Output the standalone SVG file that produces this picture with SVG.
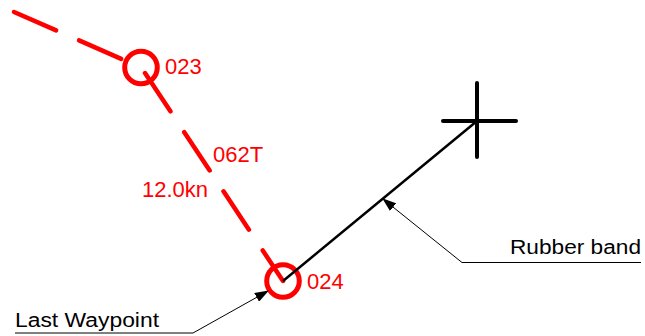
<svg xmlns="http://www.w3.org/2000/svg" width="645" height="336" viewBox="0 0 645 336">
<style>
.red{fill:none;stroke:#ff0000;stroke-width:4.5;stroke-linecap:round}
.ring{fill:none;stroke:#ff0000;stroke-width:5}
.dash{stroke-dasharray:46 25}
.rt{font-family:"Liberation Sans",Arial,sans-serif;font-size:22px;fill:#ff0000}
.bt{font-family:"Liberation Sans",Arial,sans-serif;font-size:20px;fill:#000}
.lead{fill:none;stroke:#000;stroke-width:1}
</style>
<defs>
<marker id="arr" markerWidth="14" markerHeight="10" refX="13" refY="5" orient="auto" markerUnits="userSpaceOnUse">
<path d="M0,0 L14,5 L0,10 Z" fill="#000"/>
</marker>
</defs>
<g id="route">
<path class="red dash" d="M14,12 L141,67.5"/>
<path class="red dash" d="M145,73 L283,281"/>
</g>
<g id="wp023">
<circle class="ring" cx="141" cy="67.5" r="16.3"/>
<text class="rt" x="165" y="74">023</text>
</g>
<g id="wp024">
<circle class="ring" cx="283" cy="281" r="16.3"/>
<text class="rt" x="307" y="289">024</text>
</g>
<g id="leg-labels">
<text class="rt" x="213" y="162">062T</text>
<text class="rt" x="142" y="197">12.0kn</text>
</g>
<g id="rubber">
<line x1="283" y1="281" x2="477" y2="121" stroke="#000" stroke-width="2.5"/>
</g>
<g id="cursor">
<line x1="443" y1="121" x2="516" y2="121" stroke="#000" stroke-width="4" stroke-linecap="round"/>
<line x1="477" y1="83" x2="477" y2="157" stroke="#000" stroke-width="4" stroke-linecap="round"/>
</g>
<g id="connectors">
<polyline class="lead" points="15,333 193,333 268,291" marker-end="url(#arr)"/>
<polyline class="lead" points="641,262.5 462,262.5 383,199" marker-end="url(#arr)"/>
</g>
<g id="labels">
<text class="bt" x="15" y="327" textLength="144" lengthAdjust="spacingAndGlyphs">Last Waypoint</text>
<text class="bt" x="510" y="254" textLength="131" lengthAdjust="spacingAndGlyphs">Rubber band</text>
</g>
</svg>
